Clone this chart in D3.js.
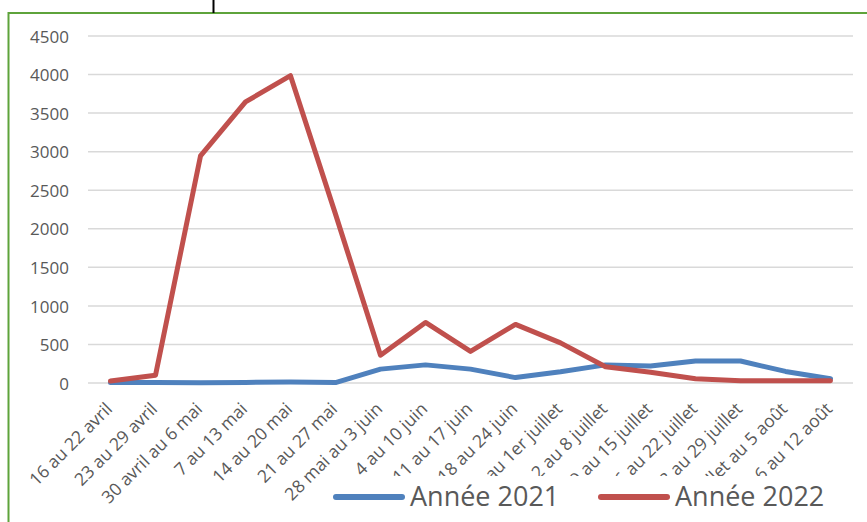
<!DOCTYPE html>
<html lang="fr">
<head>
<meta charset="utf-8">
<title>Année 2021 / Année 2022</title>
<script src="https://d3js.org/d3.v7.min.js"></script>
<style>
    body { margin: 0; background: #fff; }
    svg { display: block; }
</style>
</head>
<body>
<svg id="chart"></svg>
<script>
    // weeks shown on the x axis
    var weeks = ['16 au 22 avril', '23 au 29 avril', '30 avril au 6 mai', '7 au 13 mai',
        '14 au 20 mai', '21 au 27 mai', '28 mai au 3 juin', '4 au 10 juin', '11 au 17 juin',
        '18 au 24 juin', '25 juin au 1er juillet', '2 au 8 juillet', '9 au 15 juillet',
        '16 au 22 juillet', '23 au 29 juillet', '30 juillet au 5 août', '6 au 12 août'];

    var values2021 = [5, 5, 2, 8, 12, 5, 180, 235, 180, 70, 145, 235, 220, 285, 285, 150, 55];
    var values2022 = [25, 100, 2945, 3645, 3985, 2190, 360, 785, 410, 760, 520, 210, 140, 55, 30, 30, 28];

    var yTicks = [0, 500, 1000, 1500, 2000, 2500, 3000, 3500, 4000, 4500];

    var seriesNames = ['Année 2021', 'Année 2022'];
    var seriesColors = ['#4f81bd', '#c0504d'];

    var width = 867, height = 522;
    var fontFamily = 'Open Sans';

    var svg = d3.select('#chart')
        .attr('width', width)
        .attr('height', height);

    // chart frame
    svg.append('rect')
        .attr('x', 8.5)
        .attr('y', 13)
        .attr('width', 870)
        .attr('height', 520)
        .attr('fill', '#fff')
        .attr('stroke', '#5ea33b')
        .attr('stroke-width', 2);

    svg.append('line')
        .attr('x1', 213.5).attr('x2', 213.5)
        .attr('y1', 0).attr('y2', 13)
        .attr('stroke', '#000')
        .attr('stroke-width', 2);

    var x = d3.scaleBand()
        .domain(weeks)
        .range([88, 853]);

    var y = d3.scaleLinear()
        .domain([0, 4500])
        .range([383, 36]);

    // gridlines
    svg.append('g')
        .selectAll('line')
        .data(yTicks)
        .join('line')
        .attr('x1', 88)
        .attr('x2', 853)
        .attr('y1', function (d) { return y(d); })
        .attr('y2', function (d) { return y(d); })
        .attr('stroke', '#d9d9d9')
        .attr('stroke-width', 1.5);

    var yAxis = svg.append('g')
        .attr('transform', 'translate(69,0)')
        .call(d3.axisLeft(y).tickValues(yTicks).tickFormat(d3.format('d')).tickSize(0).tickPadding(0));
    yAxis.select('.domain').remove();
    yAxis.selectAll('text')
        .style('font-family', fontFamily)
        .style('font-size', '17px')
        .attr('fill', '#595959')
        .attr('dy', '0.36em');

    // x labels, rotated
    var xAxis = svg.append('g');
    xAxis.selectAll('text')
        .data(weeks)
        .join('text')
        .attr('transform', function (d) {
            return 'translate(' + (x(d) + x.bandwidth() / 2 + 3) + ',410) rotate(-45)';
        })
        .attr('text-anchor', 'end')
        .style('font-family', fontFamily)
        .style('font-size', '17.5px')
        .attr('fill', '#595959')
        .text(function (d) { return d; });

    var line = d3.line()
        .x(function (d, i) { return x(weeks[i]) + x.bandwidth() / 2; })
        .y(function (d) { return y(d); });

    [values2021, values2022].forEach(function (vals, i) {
        svg.append('path')
            .datum(vals)
            .attr('fill', 'none')
            .attr('stroke', seriesColors[i])
            .attr('stroke-width', 5)
            .attr('stroke-linejoin', 'round')
            .attr('stroke-linecap', 'round')
            .attr('d', line);
    });

    // legend (its white box hides the ends of the long labels)
    var legend = svg.append('g');
    legend.append('rect')
        .attr('x', 328)
        .attr('y', 476)
        .attr('width', 520)
        .attr('height', 46)
        .attr('fill', '#fff');

    var legendX = [333, 598];
    seriesNames.forEach(function (name, i) {
        legend.append('line')
            .attr('x1', legendX[i] + 3).attr('x2', legendX[i] + 69)
            .attr('y1', 497).attr('y2', 497)
            .attr('stroke', seriesColors[i])
            .attr('stroke-width', 6)
            .attr('stroke-linecap', 'round');
        legend.append('text')
            .attr('x', legendX[i] + 77)
            .attr('y', 506)
            .style('font-family', fontFamily)
            .style('font-size', '27px')
            .attr('fill', '#595959')
            .text(name);
    });
</script>
</body>
</html>
